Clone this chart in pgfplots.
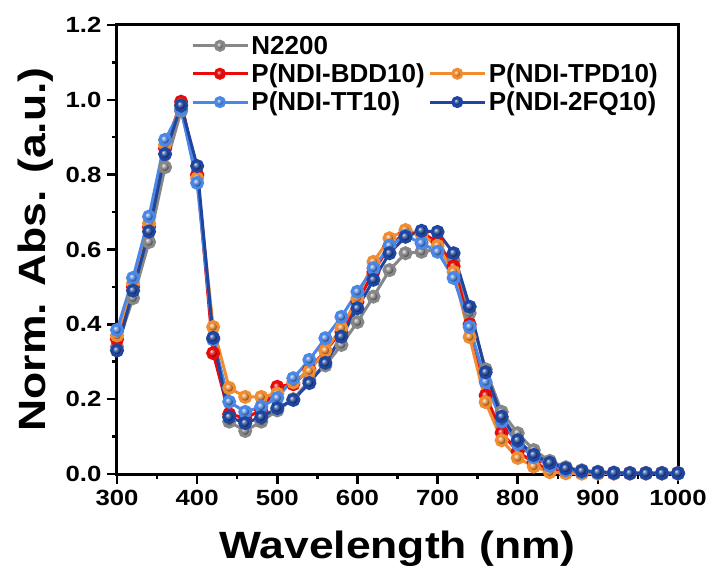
\documentclass[border=0pt]{standalone}
\usepackage{fontspec}
\setmainfont{Liberation Sans}
\newfontfamily\widefont{Liberation Sans}[FakeStretch=1.17]
\usepackage{pgfplots}
\pgfplotsset{compat=1.18}
\usepackage{pgfplotstable}

\definecolor{cgray}{RGB}{135,135,135}
\definecolor{cred}{RGB}{235,10,10}
\definecolor{corange}{RGB}{240,140,50}
\definecolor{clblue}{RGB}{75,135,230}
\definecolor{cdblue}{RGB}{30,70,160}

\pgfplotstableread{
x     g      r      o      lb     db
300   0.340  0.360  0.370  0.385  0.330
320   0.470  0.500  0.510  0.524  0.490
340   0.620  0.660  0.670  0.688  0.648
360   0.820  0.870  0.880  0.893  0.855
380   0.970  0.995  0.985  0.975  0.985
400   0.800  0.800  0.790  0.778  0.823
420   0.360  0.323  0.393  0.360  0.364
440   0.140  0.160  0.230  0.193  0.152
460   0.115  0.150  0.206  0.166  0.136
480   0.140  0.170  0.206  0.180  0.152
500   0.170  0.233  0.215  0.203  0.176
520   0.200  0.240  0.245  0.256  0.198
540   0.250  0.280  0.275  0.305  0.243
560   0.290  0.330  0.330  0.363  0.297
580   0.345  0.380  0.390  0.420  0.367
600   0.406  0.460  0.470  0.487  0.443
620   0.474  0.540  0.567  0.550  0.519
640   0.545  0.610  0.630  0.610  0.590
660   0.590  0.645  0.652  0.637  0.634
680   0.594  0.645  0.640  0.617  0.650
700   0.600  0.620  0.610  0.594  0.647
720   0.570  0.555  0.540  0.524  0.590
740   0.430  0.400  0.366  0.393  0.447
760   0.280  0.210  0.192  0.246  0.272
780   0.166  0.110  0.090  0.140  0.153
800   0.109  0.060  0.043  0.080  0.090
820   0.064  0.030  0.020  0.045  0.051
840   0.035  0.012  0.005  0.022  0.030
860   0.018  0.005  0.002  0.010  0.015
880   0.010  0.003  0.001  0.005  0.008
900   0.006  0.002  0.001  0.003  0.005
920   0.004  0.002  0.001  0.002  0.003
940   0.003  0.002  0.001  0.002  0.002
960   0.003  0.002  0.001  0.002  0.002
980   0.003  0.002  0.001  0.002  0.002
1000  0.003  0.002  0.001  0.002  0.002
}\datatable

\begin{document}
\begin{tikzpicture}
\begin{axis}[
  scale only axis,
  width=561pt, height=449pt,
  xmin=300, xmax=1000, ymin=0, ymax=1.2,
  xtick={300,400,...,1000},
  ytick={0,0.2,...,1.2},
  minor x tick num=1, minor y tick num=1,
  xtick pos=bottom, ytick pos=left,
  tick align=outside,
  major tick length=10pt, minor tick length=5pt,
  every tick/.style={line width=2.5pt, black},
  axis line style={line width=3pt},
  /pgf/number format/assume math mode=true,
  /pgf/number format/1000 sep={},
  yticklabel style={/pgf/number format/fixed, /pgf/number format/fixed zerofill, /pgf/number format/precision=1, xshift=-2pt},
  ticklabel style={font=\widefont\fontsize{22}{25}\selectfont\bfseries},
  xticklabel style={yshift=-3pt},
  xlabel={Wavelength (nm)},
  ylabel={Norm. Abs. (a.u.)},
  label style={font=\widefont\fontsize{38}{44}\selectfont\bfseries},
  xlabel style={at={(axis description cs:0.5,0)}, anchor=base, yshift=-84pt},
  ylabel style={at={(axis description cs:0,0.5)}, anchor=base, rotate=0, yshift=71pt},
  legend columns=2,
  legend style={draw=none, fill=none, at={(0.127,0.985)}, anchor=north west,
    font=\fontsize{26}{30}\selectfont\bfseries,
    row sep=4pt, /tikz/every even column/.append style={column sep=2pt}},
  legend cell align=left,
  legend image code/.code={\draw[mark repeat=2,mark phase=2,mark size=4.5pt] plot coordinates {(0pt,0pt) (27pt,0pt) (55pt,0pt)};},
  every axis plot/.append style={line width=3pt, mark=ball, mark size=5.5pt},
]
\addplot[cgray, mark options={ball color=cgray}] table[x=x,y=g]{\datatable};
\addlegendentry{N2200}
\addlegendimage{empty legend}
\addlegendentry{}
\addplot[cred, mark options={ball color=cred}] table[x=x,y=r]{\datatable};
\addlegendentry{P(NDI-BDD10)}
\addplot[corange, mark options={ball color=corange}] table[x=x,y=o]{\datatable};
\addlegendentry{P(NDI-TPD10)}
\addplot[clblue, mark options={ball color=clblue}] table[x=x,y=lb]{\datatable};
\addlegendentry{P(NDI-TT10)}
\addplot[cdblue, mark options={ball color=cdblue}] table[x=x,y=db]{\datatable};
\addlegendentry{P(NDI-2FQ10)}
\end{axis}
\path ([shift={(-117pt,-98pt)}]current axis.south west) rectangle ([shift={(36pt,25pt)}]current axis.north east);
\end{tikzpicture}
\end{document}
